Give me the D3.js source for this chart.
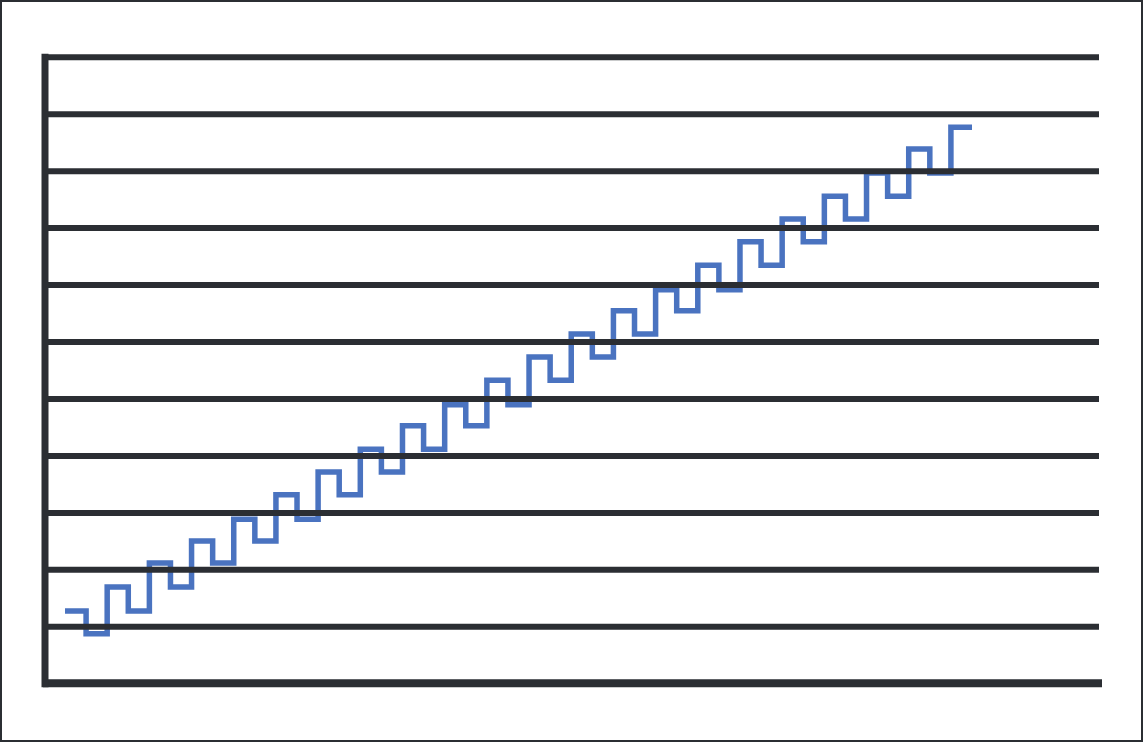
<!DOCTYPE html>
<html lang="en">
<head>
    <meta charset="UTF-8">
    <title>Step line</title>
    <script src="https://d3js.org/d3.v7.min.js"></script>
    <style>
        html, body { margin: 0; padding: 0; background: #fff; }
        svg { display: block; }
        .grid line { stroke: #2b2e33; stroke-width: 6; }
        .grid path { display: none; }
    </style>
</head>
<body>
    <svg id="viz" width="1143" height="742"></svg>
    <script>
        // value of each step, left to right (gridlines every 10)
        const steps = [12.7, 8.7, 16.9, 12.7, 21.1, 16.9, 25.0, 21.1, 28.8, 25.0,
                       33.1, 28.8, 37.1, 33.1, 41.1, 37.1, 45.2, 41.1, 48.9, 45.2,
                       53.2, 48.9, 57.3, 53.2, 61.3, 57.3, 65.4, 61.3, 69.1, 65.4,
                       73.4, 69.1, 77.5, 73.4, 81.5, 77.5, 85.5, 81.5, 89.6, 85.5,
                       93.8, 89.6, 97.6];
        const gridValues = [10, 20, 30, 40, 50, 60, 70, 80, 90, 100, 110];

        const width = 1143, height = 742;
        const svg = d3.select("#viz");

        // outer frame
        svg.append("rect")
            .attr("x", 1).attr("y", 1)
            .attr("width", width - 2).attr("height", height - 2)
            .attr("fill", "none")
            .attr("stroke", "#2b2e33")
            .attr("stroke-width", 2);

        const left = 45, right = 1099;
        const y = d3.scaleLinear().domain([0, 110]).range([683.3, 56.7]);
        const x = d3.scaleLinear().domain([0, steps.length]).range([65, 972]);

        // step line (drawn under the gridlines)
        const pts = steps.map((v, i) => [i, v]);
        pts.push([steps.length, steps[steps.length - 1]]);

        const line = d3.line()
            .x(d => x(d[0]))
            .y(d => y(d[1]))
            .curve(d3.curveStepAfter);

        svg.append("path")
            .datum(pts)
            .attr("d", line)
            .attr("fill", "none")
            .attr("stroke", "#4a73c0")
            .attr("stroke-width", 5.5)
            .attr("stroke-linejoin", "miter")
            .attr("stroke-linecap", "butt");

        // horizontal gridlines
        svg.append("g")
            .attr("class", "grid")
            .attr("transform", `translate(${left},0)`)
            .call(d3.axisLeft(y).tickValues(gridValues).tickSize(-(right - left)).tickFormat(""));

        // baseline
        svg.append("line")
            .attr("x1", 43).attr("x2", 1102)
            .attr("y1", y(0)).attr("y2", y(0))
            .attr("stroke", "#2b2e33")
            .attr("stroke-width", 8);

        // vertical axis
        svg.append("line")
            .attr("x1", left).attr("x2", left)
            .attr("y1", y(110) - 3).attr("y2", y(0) + 4)
            .attr("stroke", "#2b2e33")
            .attr("stroke-width", 7);
    </script>
</body>
</html>
